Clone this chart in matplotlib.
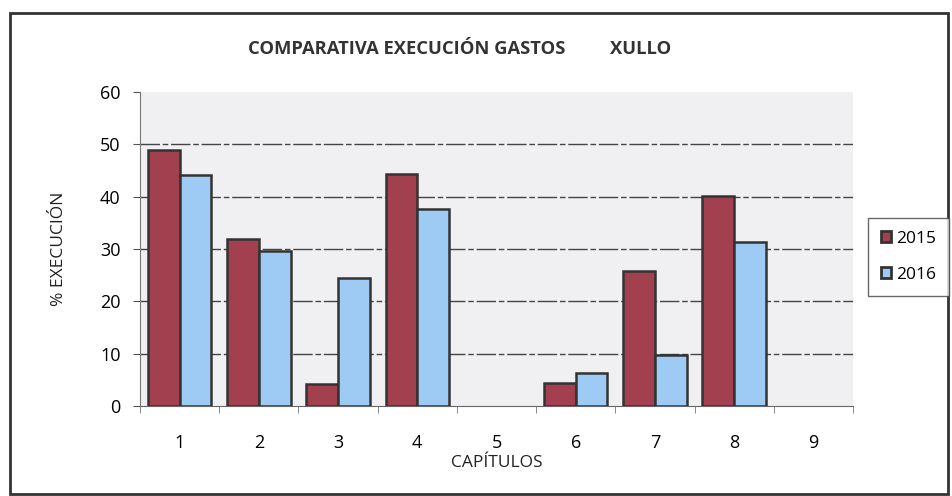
import matplotlib
matplotlib.use("Agg")
import matplotlib.pyplot as plt
from matplotlib.patches import Rectangle, Patch
import numpy as np

plt.rcParams['font.family'] = ['Open Sans', 'DejaVu Sans']

categories = ['1', '2', '3', '4', '5', '6', '7', '8', '9']
v2015 = [49, 32, 4.2, 44.3, 0, 4.4, 25.8, 40.2, 0]
v2016 = [44.2, 29.7, 24.5, 37.7, 0, 6.3, 9.8, 31.4, 0]
series_names = ['2015', '2016']
yticks = [0, 10, 20, 30, 40, 50, 60]

W, H = 953, 496
fig = plt.figure(figsize=(W / 100, H / 100), dpi=100)
ax = fig.add_axes([140 / W, 1 - 406 / H, 713 / W, 314 / H])

red = '#A3404F'
blue = '#9DCBF4'
edge = '#333333'

x = np.arange(len(categories))
b1 = ax.bar(x - 0.2, v2015, width=0.4, color=red, edgecolor=edge, linewidth=1.8, zorder=3)
b2 = ax.bar(x + 0.2, v2016, width=0.4, color=blue, edgecolor=edge, linewidth=1.8, zorder=3)
for cont in (b1, b2):
    for r in cont:
        if r.get_height() == 0:
            r.set_visible(False)

ax.set_facecolor('#F0F0F3')
ax.set_xlim(-0.5, len(categories) - 0.5)
ax.set_ylim(0, 60)
ax.set_yticks(yticks)
ax.set_yticklabels([str(t) for t in yticks], fontsize=13)
ax.set_xticks(x)
ax.set_xticklabels(categories, fontsize=13)
ax.set_xticks(np.arange(len(categories) + 1) - 0.5, minor=True)
ax.tick_params(axis='x', which='major', length=0, pad=20)
ax.tick_params(axis='x', which='minor', length=5, color='#777777', direction='out')
ax.tick_params(axis='y', which='major', length=5, color='#555555', direction='out', pad=9)

for t in yticks[1:-1]:
    ax.axhline(t, color='#444444', linewidth=1.0, linestyle=(0, (14, 2, 4, 2)), zorder=1)

for s in ['top', 'right']:
    ax.spines[s].set_visible(False)
ax.spines['left'].set_color('#777777')
ax.spines['bottom'].set_color('#666666')

ax.set_ylabel('% EXECUCIÓN', fontsize=12.5, labelpad=24, color='#222222')
ax.set_xlabel('CAPÍTULOS', fontsize=12.5, labelpad=2, color='#222222')

fig.text(248 / W, 1 - 49 / H, 'COMPARATIVA EXECUCIÓN GASTOS', fontsize=13.2,
         fontweight='bold', color='#333333', ha='left', va='center')
fig.text(610 / W, 1 - 49 / H, 'XULLO', fontsize=13.2, fontweight='bold',
         color='#333333', ha='left', va='center')

handles = [Patch(facecolor=red, edgecolor=edge, linewidth=2),
           Patch(facecolor=blue, edgecolor=edge, linewidth=2)]
leg = fig.legend(handles, series_names, loc='upper left',
                 bbox_to_anchor=(868 / W, 1 - 218 / H), borderaxespad=0, fontsize=12.5,
                 frameon=True, fancybox=False, handlelength=0.6, handleheight=0.6,
                 handletextpad=0.25, labelspacing=1.15, borderpad=0.75)
leg.get_frame().set_edgecolor('#444444')
leg.get_frame().set_linewidth(1.0)

fig.patches.append(Rectangle((10 / W, 1 - 494 / H), 938 / W, 481 / H,
                             transform=fig.transFigure, fill=False,
                             edgecolor='#333333', linewidth=2))

fig.savefig('out.png', dpi=100)
